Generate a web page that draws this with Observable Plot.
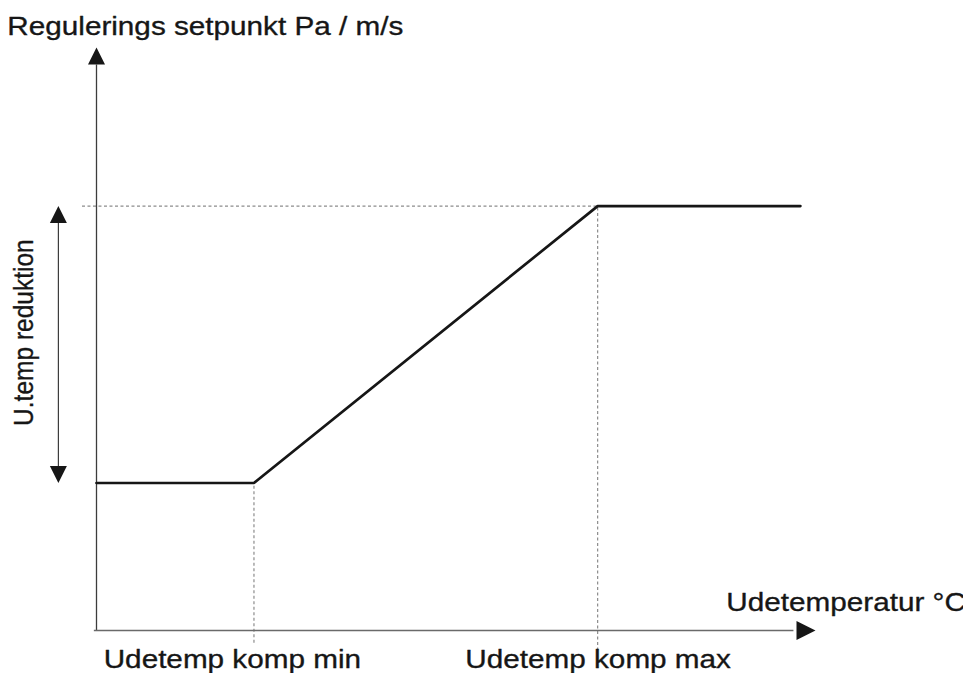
<!DOCTYPE html>
<html><head><meta charset="utf-8">
<script src="https://cdn.jsdelivr.net/npm/d3@7"></script>
<script src="https://cdn.jsdelivr.net/npm/@observablehq/plot@0.6"></script>
<style>html,body{margin:0;padding:0;background:#fff;} svg{display:block;}</style>
</head><body><div id="chart"></div>
<script>
// Data (schematic: outdoor temperature vs. control setpoint)
const temp = [0, 21.9, 69.7, 97.9];
const setpoint = [25.3, 25.3, 72.8, 72.8];
const xLabels = ["Udetemp komp min", "Udetemp komp max"];
const yTitle = "Regulerings setpunkt Pa / m/s";
const xTitle = "Udetemperatur °C";
const bandLabel = "U.temp reduktion";

const curve = temp.map((t, i) => ({t, s: setpoint[i]}));
const kMin = temp[1], kMax = temp[2], sLow = setpoint[1], sHigh = setpoint[2];

// arrowhead symbol with its tip at the anchor point, pointing up
const head = {draw(ctx, size) {
  const r = Math.sqrt(size / Math.PI);
  ctx.moveTo(0, 0); ctx.lineTo(r, 2 * r); ctx.lineTo(-r, 2 * r); ctx.closePath();
}};

const font = "'Liberation Sans', Arial, sans-serif";
const ink = "#161616";
const dash = {stroke: "#8c8c8c", strokeWidth: 1.2, strokeDasharray: "3,2.5"};
const txt = {fill: ink, stroke: ink, strokeWidth: 0.35, fontSize: 26.5, lineAnchor: "bottom"};

const plot = Plot.plot({
  width: 963, height: 673,
  marginLeft: 96, marginRight: 148, marginTop: 47, marginBottom: 43,
  x: {domain: [0, 100], axis: null},
  y: {domain: [0, 100], axis: null},
  style: {fontFamily: font, background: "#fff", color: ink},
  marks: [
    // guides
    Plot.ruleY([sHigh], {x1: -1.95, x2: kMax, ...dash}),
    Plot.ruleX([kMin], {y1: -2.2, y2: sLow, ...dash}),
    Plot.ruleX([kMax], {y1: -3.5, y2: sHigh, ...dash}),
    // axes
    Plot.ruleX([0], {y1: 0, y2: 97, stroke: "#3c3c3c", strokeWidth: 1.3}),
    Plot.ruleY([0], {x1: -0.3, x2: 97, stroke: "#6a6a6a", strokeWidth: 1.4}),
    // reduction span
    Plot.ruleX([-5.3], {y1: sLow + 1, y2: sHigh - 1, stroke: "#3c3c3c", strokeWidth: 1.2}),
    // setpoint curve
    Plot.line(curve, {x: "t", y: "s", stroke: ink, strokeWidth: 2.7, strokeLinejoin: "miter"}),
    // arrowheads
    Plot.dot([[0, 100, 0], [-5.3, sHigh, 0], [-5.3, sLow, 180]],
      {x: d => d[0], y: d => d[1], rotate: d => d[2], symbol: head, r: 8.5, fill: ink, stroke: "none"}),
    Plot.dot([[100, 0, 90]],
      {x: d => d[0], y: d => d[1], rotate: d => d[2], symbol: head, r: 9.5, fill: ink, stroke: "none"}),
    // texts
    Plot.text([yTitle], {x: -12.4, y: 102.2, textAnchor: "start", ...txt}),
    Plot.text([xTitle], {x: 87.6, y: 3.4, textAnchor: "start", ...txt}),
    Plot.text([xLabels[0]], {x: 1.0, y: -6.5, textAnchor: "start", ...txt}),
    Plot.text([xLabels[1]], {x: 51.3, y: -6.5, textAnchor: "start", ...txt}),
    Plot.text([bandLabel], {x: -8.9, y: 51.1, rotate: -90, textAnchor: "middle", ...txt, fontSize: 28.5})
  ]
});

document.getElementById("chart").append(plot);
// the reference lettering is slightly wider than the installed Arial metric font
plot.querySelectorAll("text").forEach(t => {
  const rotated = (t.getAttribute("transform") || "").includes("rotate");
  const w = t.getComputedTextLength();
  t.setAttribute("textLength", (w * (rotated ? 0.86 : 1.12)).toFixed(1));
  t.setAttribute("lengthAdjust", "spacingAndGlyphs");
});
</script>
</body></html>
